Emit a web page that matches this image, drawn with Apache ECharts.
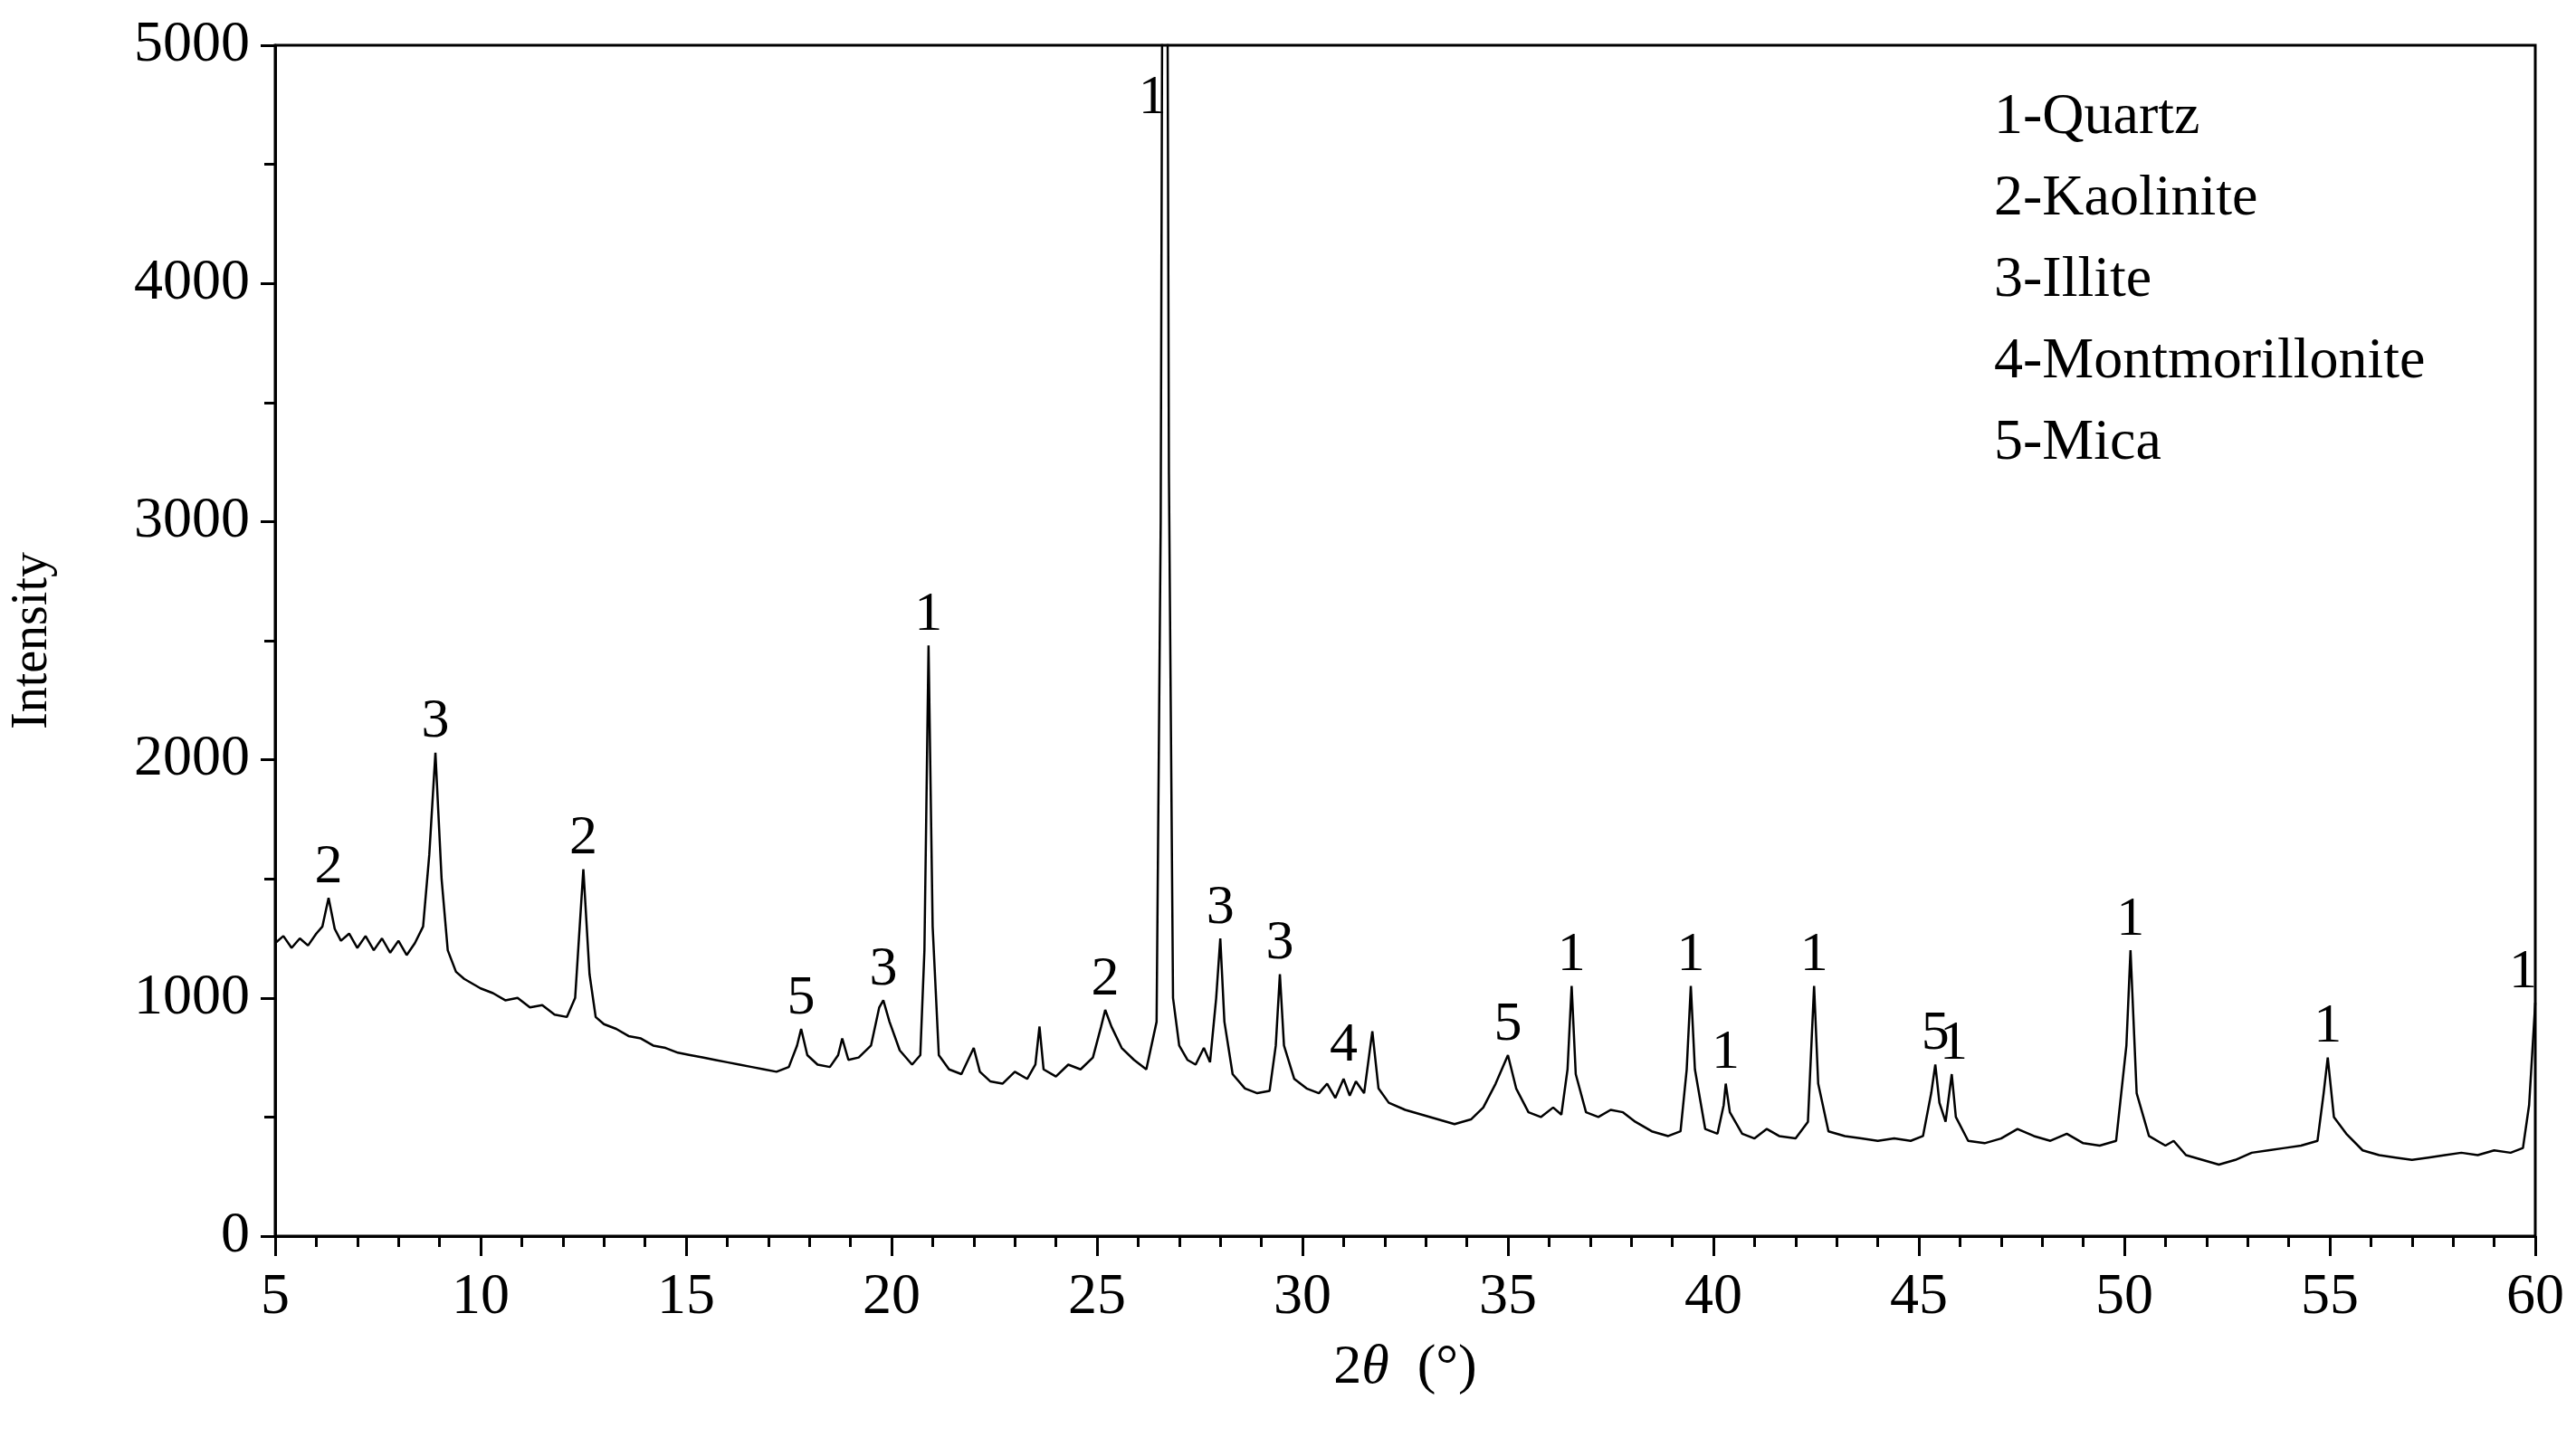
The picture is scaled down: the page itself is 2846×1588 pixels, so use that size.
<!DOCTYPE html>
<html>
<head>
<meta charset="utf-8">
<script src="https://cdn.jsdelivr.net/npm/echarts@6/dist/echarts.min.js"></script>
<style>html,body{margin:0;padding:0;background:#fff}#chart{width:2846px;height:1588px}</style>
</head>
<body>
<div id="chart"></div>
<script>
// XRD pattern: [2theta, intensity]
var pattern = [
  [5.0,1230],[5.2,1260],[5.4,1210],[5.6,1250],[5.8,1220],[6.0,1270],[6.15,1300],[6.3,1420],[6.45,1290],[6.6,1240],
  [6.8,1270],[7.0,1210],[7.2,1260],[7.4,1200],[7.6,1250],[7.8,1190],[8.0,1240],[8.2,1180],[8.4,1230],[8.6,1300],
  [8.75,1600],[8.9,2030],[9.05,1500],[9.2,1200],[9.4,1110],[9.6,1080],[9.8,1060],[10.0,1040],[10.3,1020],[10.6,990],
  [10.9,1000],[11.2,960],[11.5,970],[11.8,930],[12.1,920],[12.3,1000],[12.5,1540],[12.65,1100],[12.8,920],[13.0,890],
  [13.3,870],[13.6,840],[13.9,830],[14.2,800],[14.5,790],[14.8,770],[15.1,760],[15.4,750],[15.7,740],[16.0,730],
  [16.3,720],[16.6,710],[16.9,700],[17.2,690],[17.5,710],[17.7,800],[17.8,870],[17.95,760],[18.2,720],[18.5,710],
  [18.7,760],[18.8,830],[18.95,740],[19.2,750],[19.5,800],[19.7,960],[19.8,990],[19.95,900],[20.2,780],[20.5,720],
  [20.7,760],[20.8,1200],[20.9,2480],[21.0,1300],[21.15,760],[21.4,700],[21.7,680],[22.0,790],[22.15,690],[22.4,650],
  [22.7,640],[23.0,690],[23.3,660],[23.5,720],[23.6,880],[23.7,700],[24.0,670],[24.3,720],[24.6,700],[24.9,750],
  [25.1,880],[25.2,950],[25.35,880],[25.6,790],[25.9,740],[26.2,700],[26.45,900],[26.55,3000],[26.65,9000],[26.75,3200],
  [26.85,1000],[27.0,800],[27.2,740],[27.4,720],[27.6,790],[27.75,730],[27.9,1000],[28.0,1250],[28.1,900],[28.3,680],
  [28.6,620],[28.9,600],[29.2,610],[29.35,800],[29.45,1100],[29.55,800],[29.8,660],[30.1,620],[30.4,600],[30.6,640],
  [30.8,580],[31.0,660],[31.15,590],[31.3,650],[31.5,600],[31.7,860],[31.85,620],[32.1,560],[32.5,530],[32.9,510],
  [33.3,490],[33.7,470],[34.1,490],[34.4,540],[34.7,640],[35.0,760],[35.2,620],[35.5,520],[35.8,500],[36.1,540],
  [36.3,510],[36.45,700],[36.55,1050],[36.65,680],[36.9,520],[37.2,500],[37.5,530],[37.8,520],[38.1,480],[38.5,440],
  [38.9,420],[39.2,440],[39.35,700],[39.45,1050],[39.55,700],[39.8,450],[40.1,430],[40.25,550],[40.3,640],[40.4,520],
  [40.7,430],[41.0,410],[41.3,450],[41.6,420],[42.0,410],[42.3,480],[42.45,1050],[42.55,640],[42.8,440],[43.2,420],
  [43.6,410],[44.0,400],[44.4,410],[44.8,400],[45.1,420],[45.3,600],[45.4,720],[45.5,560],[45.65,480],[45.8,680],
  [45.9,500],[46.2,400],[46.6,390],[47.0,410],[47.4,450],[47.8,420],[48.2,400],[48.6,430],[49.0,390],[49.4,380],
  [49.8,400],[50.05,800],[50.15,1200],[50.3,600],[50.6,420],[51.0,380],[51.2,400],[51.5,340],[51.9,320],[52.3,300],
  [52.7,320],[53.1,350],[53.5,360],[53.9,370],[54.3,380],[54.7,400],[54.85,600],[54.95,750],[55.1,500],[55.4,430],
  [55.8,360],[56.2,340],[56.6,330],[57.0,320],[57.4,330],[57.8,340],[58.2,350],[58.6,340],[59.0,360],[59.4,350],
  [59.7,370],[59.85,550],[60.0,980]
];
// peak markers: [2theta, intensity where the label sits, phase number]
var peakLabels = [
  [6.3,1430,'2'],[8.9,2040,'3'],[12.5,1550,'2'],[17.8,880,'5'],[19.8,1000,'3'],[20.9,2490,'1'],
  [25.2,960,'2'],[26.35,4660,'1'],[28.0,1260,'3'],[29.45,1110,'3'],[31.0,680,'4'],[35.0,770,'5'],
  [36.55,1060,'1'],[39.45,1060,'1'],[40.3,650,'1'],[42.45,1060,'1'],[45.4,730,'5'],[45.85,690,'1'],
  [50.15,1210,'1'],[54.95,760,'1'],[59.7,990,'1']
];
var legendLines = ['1-Quartz','2-Kaolinite','3-Illite','4-Montmorillonite','5-Mica'];

var font = 'Liberation Serif, Times New Roman, serif';
var chart = echarts.init(document.getElementById('chart'));
var option = {
  backgroundColor: '#fff',
  animation: false,
  grid: { left: 300, right: 45, top: 50, bottom: 222, show: true, borderColor: '#000', borderWidth: 3 },
  xAxis: {
    type: 'value', min: 5, max: 60, interval: 5,
    name: '{n|2}{i|θ}{n|  (°)}', nameLocation: 'middle', nameGap: 115,
    nameTextStyle: {
      color: '#000',
      rich: {
        n: { fontFamily: font, fontSize: 62, color: '#000' },
        i: { fontFamily: font, fontSize: 62, fontStyle: 'italic', color: '#000' }
      }
    },
    axisLine: { lineStyle: { color: '#000', width: 3 } },
    axisTick: { length: 22, lineStyle: { color: '#000', width: 3 } },
    minorTick: { show: true, splitNumber: 5, length: 12, lineStyle: { color: '#000', width: 3 } },
    axisLabel: { fontFamily: font, fontSize: 64, color: '#000', margin: 36 },
    splitLine: { show: false }
  },
  yAxis: {
    type: 'value', min: 0, max: 5000, interval: 1000,
    name: 'Intensity', nameLocation: 'middle', nameGap: 240,
    nameTextStyle: { fontFamily: font, fontSize: 56, color: '#000' },
    axisLine: { lineStyle: { color: '#000', width: 3 } },
    axisTick: { length: 16, lineStyle: { color: '#000', width: 3 } },
    minorTick: { show: true, splitNumber: 2, length: 12, lineStyle: { color: '#000', width: 3 } },
    axisLabel: { fontFamily: font, fontSize: 64, color: '#000', margin: 28, formatter: function (v) { return String(v); } },
    splitLine: { show: false }
  },
  series: [
    {
      type: 'line', data: pattern, showSymbol: false, clip: true,
      lineStyle: { color: '#000', width: 2.5 }
    },
    {
      type: 'scatter', data: peakLabels, symbolSize: 0, silent: true,
      itemStyle: { color: '#000', opacity: 1 },
      label: {
        show: true, position: 'top', distance: 0,
        formatter: function (p) { return p.data[2]; },
        fontFamily: font, fontSize: 62, color: '#000', opacity: 1
      }
    }
  ],
  graphic: [{
    type: 'text', left: 2203, top: 85,
    style: { text: legendLines.join('\n'), font: '64px ' + font, lineHeight: 90, fill: '#000' }
  }]
};
chart.setOption(option);
</script>
</body>
</html>
